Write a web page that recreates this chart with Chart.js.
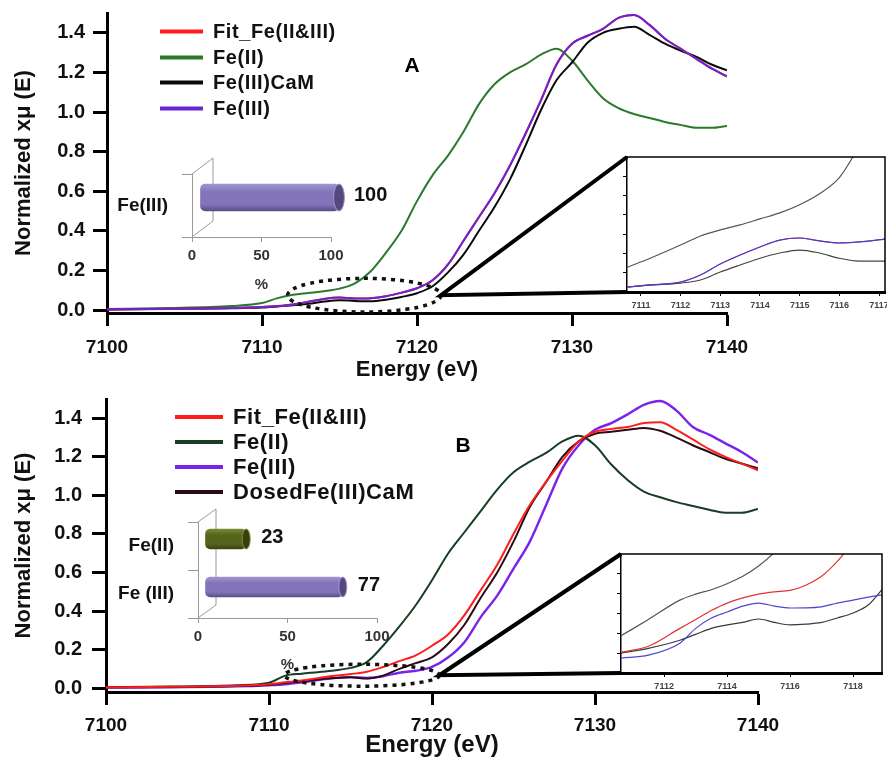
<!DOCTYPE html>
<html>
<head>
<meta charset="utf-8">
<script src="https://cdn.jsdelivr.net/npm/chart.js@4.4.0/dist/chart.umd.min.js"></script>
<style>
  body { margin: 0; background: #fff; }
  #wrap { position: relative; width: 887px; height: 757px; overflow: hidden; background: #fff;
          font-family: "Liberation Sans", Arial, sans-serif; }
  #wrap canvas { position: absolute; left: 0; top: 0; }
  .lg { position: absolute; display: flex; align-items: center; font-weight: bold; color: #111;
        white-space: nowrap; transform: translateY(-50%); }
  .lg i { display: inline-block; height: 4px; }
  .tag { position: absolute; font-weight: bold; font-size: 21px; transform: translate(-50%, -50%); }
</style>
</head>
<body>
<div id="wrap">
  <canvas id="mainA" width="887" height="757"></canvas>
  <canvas id="mainB" width="887" height="757"></canvas>
  <canvas id="zoomA" width="887" height="757"></canvas>
  <canvas id="zoomB" width="887" height="757"></canvas>
  <canvas id="barA" width="887" height="757"></canvas>
  <canvas id="barB" width="887" height="757"></canvas>
  <div class="tag" style="left:412px;top:65px">A</div>
  <div class="tag" style="left:463px;top:445px">B</div>
</div>
<script>
Chart.defaults.font.family = '"Liberation Sans", Arial, sans-serif';
Chart.defaults.color = '#111';

// energy grid (eV) shared by the main curves
const energy = [7100, 7104, 7108, 7110, 7111, 7112, 7113, 7114, 7115, 7116, 7117, 7118, 7119, 7120,
  7121, 7122, 7123, 7124, 7125, 7126, 7127, 7128, 7129, 7130, 7131, 7132, 7133, 7134, 7135, 7136,
  7137, 7138, 7139, 7140];
const energyTicks = [7100, 7110, 7120, 7130, 7140];
const muTicks = [0, 0.2, 0.4, 0.6, 0.8, 1.0, 1.2, 1.4];

// panel A
const feIIA = [0.005, 0.01, 0.02, 0.035, 0.06, 0.077, 0.086, 0.095, 0.108, 0.135, 0.195, 0.29, 0.40, 0.55,
  0.68, 0.78, 0.90, 1.04, 1.14, 1.20, 1.24, 1.29, 1.32, 1.26, 1.16, 1.07, 1.02, 0.99, 0.97, 0.95,
  0.935, 0.92, 0.92, 0.93];
const feIIIA = [0.003, 0.006, 0.01, 0.015, 0.02, 0.028, 0.042, 0.056, 0.063, 0.058, 0.06, 0.07, 0.088, 0.11,
  0.15, 0.23, 0.35, 0.47, 0.59, 0.73, 0.89, 1.06, 1.24, 1.345, 1.385, 1.42, 1.475, 1.49, 1.44, 1.37,
  1.32, 1.27, 1.22, 1.18];
const fitA = [0.003, 0.006, 0.01, 0.015, 0.02, 0.028, 0.042, 0.056, 0.063, 0.058, 0.06, 0.07, 0.088, 0.11,
  0.15, 0.23, 0.35, 0.47, 0.59, 0.73, 0.89, 1.06, 1.24, 1.345, 1.385, 1.42, 1.475, 1.49, 1.44, 1.37,
  1.32, 1.27, 1.22, 1.18];
const camA = [0.003, 0.005, 0.009, 0.013, 0.018, 0.024, 0.032, 0.043, 0.05, 0.046, 0.044, 0.052, 0.066, 0.085,
  0.12, 0.19, 0.28, 0.40, 0.52, 0.66, 0.83, 1.01, 1.16, 1.25, 1.35, 1.40, 1.42, 1.43, 1.39, 1.345,
  1.31, 1.28, 1.24, 1.21];

// panel B
const feIIB = [0.005, 0.008, 0.015, 0.028, 0.065, 0.075, 0.083, 0.092, 0.105, 0.135, 0.22, 0.32, 0.43, 0.56,
  0.70, 0.81, 0.92, 1.03, 1.12, 1.175, 1.22, 1.28, 1.31, 1.26, 1.16, 1.08, 1.02, 0.99, 0.965, 0.945,
  0.925, 0.91, 0.91, 0.93];
const fitB = [0.004, 0.007, 0.012, 0.02, 0.03, 0.04, 0.052, 0.064, 0.073, 0.085, 0.11, 0.14, 0.17, 0.22,
  0.28, 0.38, 0.51, 0.64, 0.80, 0.95, 1.07, 1.18, 1.28, 1.33, 1.345, 1.355, 1.375, 1.38, 1.34, 1.29,
  1.24, 1.20, 1.165, 1.13];
const dosedB = [0.004, 0.006, 0.011, 0.018, 0.027, 0.035, 0.045, 0.052, 0.056, 0.05, 0.065, 0.10, 0.13, 0.16,
  0.23, 0.33, 0.47, 0.60, 0.76, 0.94, 1.07, 1.20, 1.28, 1.32, 1.33, 1.34, 1.35, 1.335, 1.30, 1.26,
  1.225, 1.19, 1.165, 1.14];
const feIIIB = [0.003, 0.005, 0.009, 0.015, 0.02, 0.03, 0.042, 0.052, 0.057, 0.053, 0.062, 0.08, 0.09, 0.11,
  0.16, 0.24, 0.37, 0.48, 0.62, 0.76, 0.95, 1.14, 1.26, 1.34, 1.375, 1.42, 1.47, 1.49, 1.44, 1.355,
  1.315, 1.27, 1.225, 1.17];

// pre-edge zoom insets
const zoomEA = [7110.65, 7111.25, 7112, 7112.5, 7113, 7113.5, 7114, 7114.5, 7115, 7115.5, 7116, 7116.5, 7117.15];
const zoomTicksA = [7111, 7112, 7113, 7114, 7115, 7116, 7117];
const zFeIIA = [0.0398, 0.0462, 0.055, 0.0612, 0.0653, 0.0687, 0.0728, 0.0769, 0.0825, 0.09, 0.101, 0.122, null];
const zFeIIIA = [0.0264, 0.0278, 0.0298, 0.0346, 0.0421, 0.0482, 0.0537, 0.0584, 0.0598, 0.0578, 0.0564, 0.0571, 0.0591];
const zFitA = [0.0264, 0.0278, 0.0298, 0.0346, 0.0421, 0.0482, 0.0537, 0.0584, 0.0598, 0.0578, 0.0564, 0.0571, 0.0591];
const zCamA = [0.0264, 0.0278, 0.0291, 0.0312, 0.0366, 0.0414, 0.046, 0.0496, 0.0516, 0.0496, 0.046, 0.0441, 0.0441];

const zoomEB = [7110.63, 7111.5, 7112.5, 7113, 7113.5, 7114, 7114.5, 7115, 7115.5, 7116, 7116.5, 7117, 7117.5,
  7118, 7118.5, 7118.92];
const zoomTicksB = [7112, 7114, 7116, 7118];
const zFeIIB = [0.045, 0.056, 0.069, 0.073, 0.076, 0.080, 0.085, 0.092, 0.101, 0.113, null, null, null, null, null, null];
const zFitB = [0.034, 0.038, 0.05, 0.056, 0.062, 0.067, 0.0705, 0.073, 0.0745, 0.0755, 0.079, 0.085, 0.095, 0.108, null, null];
const zFeIIIB = [0.030, 0.032, 0.040, 0.050, 0.057, 0.061, 0.065, 0.067, 0.065, 0.0637, 0.0638, 0.0645, 0.067, 0.069, 0.071, 0.0725];
const zDosedB = [0.0334, 0.0366, 0.042, 0.046, 0.050, 0.0523, 0.054, 0.0563, 0.054, 0.0523, 0.0528, 0.054, 0.057, 0.0603, 0.066, 0.076];

// linear combination fit percentages
const barLabelsA = ['Fe(III)'];
const barValuesA = [100];
const barLabelsB = ['Fe(II)', 'Fe (III)'];
const barValuesB = [23, 77];
const pctTicks = [0, 50, 100];

const pts = (xs, ys) => xs.map((x, i) => ({ x: x, y: ys[i] }));
const fixTicks = vals => scale => { scale.ticks = vals.map(v => ({ value: v })); };

function lineSet(label, xs, ys, color, width) {
  return { label: label, data: pts(xs, ys), borderColor: color, borderWidth: width || 2,
    pointRadius: 0, cubicInterpolationMode: 'monotone', fill: false, spanGaps: false };
}

// dotted ellipse around the pre-edge region
function markPlugin(mark) {
  return {
    id: 'mark',
    afterDatasetsDraw(chart) {
      const { ctx, scales: { x, y } } = chart;
      const cx = x.getPixelForValue(mark.e), cy = y.getPixelForValue(mark.v);
      const rx = x.getPixelForValue(mark.e + mark.re) - cx;
      const ry = cy - y.getPixelForValue(mark.v + mark.rv);
      ctx.save();
      ctx.setLineDash([4, 5]);
      ctx.lineWidth = 3.5;
      ctx.strokeStyle = '#111';
      ctx.beginPath();
      ctx.ellipse(cx, cy, rx, ry, 0, 0, Math.PI * 2);
      ctx.stroke();
      ctx.restore();
    }
  };
}

function mainChart(id, p, sets) {
  return new Chart(document.getElementById(id), {
    type: 'line',
    data: { datasets: sets },
    options: {
      responsive: false, animation: false, events: [],
      layout: { padding: { left: 0, top: p.top, right: 887 - p.right, bottom: 757 - p.bottom - p.xh } },
      plugins: { legend: { display: false }, tooltip: { enabled: false } },
      scales: {
        x: {
          type: 'linear', min: 7100, max: 7140,
          afterBuildTicks: fixTicks(energyTicks),
          afterFit: s => { s.height = p.xh; s.paddingLeft = 0; s.paddingRight = 0; },
          grid: { drawOnChartArea: false, tickLength: 13, tickWidth: 3, color: '#000' },
          border: { width: 3, color: '#000' },
          ticks: { font: { size: 19, weight: 'bold' }, padding: p.xpad, maxRotation: 0, callback: v => String(v) },
          title: { display: true, text: 'Energy (eV)', font: { size: p.xtitle, weight: 'bold', lineHeight: 1 },
            padding: { top: 0, bottom: p.xtb } }
        },
        y: {
          min: p.ymin, max: 1.5,
          afterBuildTicks: fixTicks(muTicks),
          afterFit: s => { s.width = p.left; s.paddingTop = 0; s.paddingBottom = 0; },
          grid: { drawOnChartArea: false, tickLength: 14, tickWidth: 3, color: '#000' },
          border: { width: 3, color: '#000' },
          ticks: { font: { size: 20, weight: 'bold' }, padding: p.ypad, callback: v => v.toFixed(1) },
          title: { display: true, text: 'Normalized xμ (E)', font: { size: 22, weight: 'bold', lineHeight: 1 },
            padding: { top: 13, bottom: 0 } }
        }
      }
    },
    plugins: [markPlugin(p.mark)]
  });
}

const markA = { e: 7116.6, v: 0.075, re: 4.95, rv: 0.085 };
const markB = { e: 7115.7, v: 0.067, re: 4.75, rv: 0.057 };

const chartA = mainChart('mainA',
  { left: 107, top: 13, right: 727, bottom: 313, xh: 70, xpad: 10, xtitle: 22, xtb: 2, ymin: -0.015, ypad: 8, mark: markA },
  [
    lineSet('Fe(III)', energy, feIIIA, '#6a25d2'),
    lineSet('Fit_Fe(II&III)', energy, fitA, '#ff1c1c'),
    lineSet('Fe(III)CaM', energy, camA, '#0a0a0a'),
    lineSet('Fe(II)', energy, feIIA, '#2b7a2b')
  ]);

const chartB = mainChart('mainB',
  { left: 106, top: 399, right: 758, bottom: 692, xh: 65, xpad: 9, xtitle: 24, xtb: 0, ymin: -0.02, ypad: 10, mark: markB },
  [
    lineSet('Fit_Fe(II&III)', energy, fitB, '#ff1c1c'),
    lineSet('DosedFe(III)CaM', energy, dosedB, '#2a0c12'),
    lineSet('Fe(III)', energy, feIIIB, '#7a24ea', 2.4),
    lineSet('Fe(II)', energy, feIIB, '#173d24')
  ]);

// zoom inset: frame and the wedge that ties it to the dotted ellipse
function insetPlugin(main, mark) {
  return {
    id: 'inset',
    beforeDraw(chart) {
      const { ctx, chartArea: a } = chart;
      ctx.save();
      ctx.fillStyle = '#fff';
      ctx.fillRect(a.left, a.top, a.right - a.left, a.bottom - a.top);
      ctx.restore();
    },
    afterDraw(chart) {
      const { ctx, chartArea: a } = chart;
      const x = main.scales.x, y = main.scales.y;
      const ax = x.getPixelForValue(mark.e + mark.re), ay = y.getPixelForValue(mark.v);
      ctx.save();
      ctx.strokeStyle = '#000';
      ctx.lineWidth = 1.5;
      ctx.beginPath();
      ctx.moveTo(a.left, a.top);
      ctx.lineTo(a.right, a.top);
      ctx.lineTo(a.right, a.bottom);
      ctx.stroke();
      ctx.lineWidth = 4;
      ctx.beginPath();
      ctx.moveTo(a.left, a.top);
      ctx.lineTo(ax, ay);
      ctx.lineTo(a.left, a.bottom);
      ctx.stroke();
      ctx.restore();
    }
  };
}

function zoomChart(id, p, sets, main, mark) {
  return new Chart(document.getElementById(id), {
    type: 'line',
    data: { datasets: sets },
    options: {
      responsive: false, animation: false, events: [],
      layout: { padding: { left: p.left - 6, top: p.top, right: 887 - p.right, bottom: 757 - p.bottom - 22 } },
      plugins: { legend: { display: false }, tooltip: { enabled: false } },
      scales: {
        x: {
          type: 'linear', min: p.xmin, max: p.xmax,
          afterBuildTicks: fixTicks(p.ticks),
          afterFit: s => { s.height = 22; s.paddingLeft = 0; s.paddingRight = 0; },
          grid: { drawOnChartArea: false, tickLength: 4, color: '#000' },
          border: { width: 3, color: '#000' },
          ticks: { font: { size: 9, weight: 'bold' }, color: '#444', padding: 4, maxRotation: 0, callback: v => String(v) }
        },
        y: {
          min: p.ymin, max: p.ymax,
          afterFit: s => { s.width = 6; s.paddingTop = 0; s.paddingBottom = 0; },
          grid: { drawOnChartArea: false, tickLength: 4, color: '#000' },
          border: { width: 1.5, color: '#000' },
          ticks: { display: false, count: p.count }
        }
      }
    },
    plugins: [insetPlugin(main, mark)]
  });
}

zoomChart('zoomA',
  { left: 627, top: 157, right: 885, bottom: 292, xmin: 7110.65, xmax: 7117.15, ymin: 0.023, ymax: 0.115, count: 8, ticks: zoomTicksA },
  [
    lineSet('Fe(III)', zoomEA, zFeIIIA, '#4b3ccf', 1.2),
    lineSet('Fit_Fe(II&III)', zoomEA, zFitA, '#d02040', 1),
    lineSet('Fe(III)CaM', zoomEA, zCamA, '#444', 1.2),
    lineSet('Fe(II)', zoomEA, zFeIIA, '#555', 1.2)
  ], chartA, markA);

zoomChart('zoomB',
  { left: 621, top: 554, right: 882, bottom: 673, xmin: 7110.63, xmax: 7118.92, ymin: 0.02, ymax: 0.10, count: 7, ticks: zoomTicksB },
  [
    lineSet('Fit_Fe(II&III)', zoomEB, zFitB, '#e03535', 1.2),
    lineSet('Fe(III)', zoomEB, zFeIIIB, '#4a48d0', 1.2),
    lineSet('DosedFe(III)CaM', zoomEB, zDosedB, '#3a3a3a', 1.2),
    lineSet('Fe(II)', zoomEB, zFeIIB, '#555', 1.2)
  ], chartB, markB);

// 3D-ish cylinder bars with a back wall
function cylinderPlugin(depth, shift, shades) {
  return {
    id: 'cyl',
    beforeDraw(chart) {
      const { ctx, chartArea: a } = chart;
      ctx.save();
      ctx.strokeStyle = '#9a9a9a';
      ctx.lineWidth = 1;
      ctx.beginPath();
      ctx.moveTo(a.left, a.top);
      ctx.lineTo(a.left + depth.x, a.top + depth.y);
      ctx.lineTo(a.left + depth.x, a.bottom + depth.y);
      ctx.lineTo(a.left, a.bottom);
      ctx.stroke();
      ctx.restore();
    },
    beforeDatasetsDraw(chart) {
      const ctx = chart.ctx;
      chart.getDatasetMeta(0).data.forEach((el, i) => {
        const s = shades[i];
        const g = ctx.createLinearGradient(0, el.y - el.height / 2, 0, el.y + el.height / 2);
        g.addColorStop(0, s[0]);
        g.addColorStop(0.3, s[1]);
        g.addColorStop(0.75, s[1]);
        g.addColorStop(1, s[2]);
        el.options.backgroundColor = g;
      });
      ctx.save();
      ctx.translate(shift.x, shift.y);
    },
    afterDatasetsDraw(chart) {
      const ctx = chart.ctx;
      const ds = chart.data.datasets[0];
      chart.getDatasetMeta(0).data.forEach((el, i) => {
        ctx.beginPath();
        ctx.ellipse(el.x, el.y, el.height * 0.2, el.height / 2, 0, 0, Math.PI * 2);
        ctx.fillStyle = shades[i][3];
        ctx.fill();
        ctx.strokeStyle = shades[i][0];
        ctx.lineWidth = 1;
        ctx.stroke();
      });
      ctx.restore();
      ctx.save();
      ctx.font = 'bold 20px "Liberation Sans", Arial, sans-serif';
      ctx.fillStyle = '#111';
      ctx.textBaseline = 'middle';
      chart.getDatasetMeta(0).data.forEach((el, i) => {
        ctx.fillText(String(ds.data[i]), el.x + shift.x + 15, el.y + shift.y - 2);
      });
      ctx.restore();
    }
  };
}

const lavender = ['#a194d2', '#8374ba', '#5b4e86', '#54487c'];
const olive = ['#7a8a36', '#56651e', '#39420f', '#374010'];

function barChart(id, p, labels, values, shades) {
  return new Chart(document.getElementById(id), {
    type: 'bar',
    data: { labels: labels, datasets: [{ data: values, barThickness: p.thick, clip: false,
      borderRadius: 5, borderSkipped: false, backgroundColor: () => '#8374ba' }] },
    options: {
      indexAxis: 'y', responsive: false, animation: false, events: [],
      layout: { padding: { left: p.left - 132, top: p.top, right: 887 - p.right, bottom: 757 - p.bottom - 58 } },
      plugins: { legend: { display: false }, tooltip: { enabled: false } },
      scales: {
        x: {
          min: 0, max: 100,
          afterBuildTicks: fixTicks(pctTicks),
          afterFit: s => { s.height = 58; s.paddingLeft = 0; s.paddingRight = 0; },
          grid: { drawOnChartArea: false, tickLength: 5, color: '#999' },
          border: { color: '#999', width: 1 },
          ticks: { font: { size: 15, weight: 'bold' }, color: '#333', padding: 5 },
          title: { display: true, text: '%', font: { size: 15, weight: 'bold', lineHeight: 1 }, color: '#333',
            padding: { top: 0, bottom: p.ptb } }
        },
        y: {
          afterFit: s => { s.width = 132; s.paddingTop = 0; s.paddingBottom = 0; },
          grid: { offset: true, drawOnChartArea: false, tickLength: 10, color: '#999' },
          border: { color: '#999', width: 1 },
          ticks: { font: { size: 19, weight: 'bold' }, color: '#111', padding: 14 }
        }
      }
    },
    plugins: [cylinderPlugin(p.depth, p.shift, shades)]
  });
}

barChart('barA', { left: 192, top: 174, right: 331, bottom: 237, thick: 27, ptb: 3,
  depth: { x: 21, y: -16 }, shift: { x: 8, y: -8 } }, barLabelsA, barValuesA, [lavender]);
barChart('barB', { left: 198, top: 522, right: 377, bottom: 618, thick: 20, ptb: 4,
  depth: { x: 18, y: -13 }, shift: { x: 7, y: -7 } }, barLabelsB, barValuesB, [olive, lavender]);

// legends, built from the charts' own datasets
function legend(chart, order, x, rows, lineW, size) {
  const wrap = document.getElementById('wrap');
  order.forEach((name, i) => {
    const ds = chart.data.datasets.find(d => d.label === name);
    const row = document.createElement('div');
    row.className = 'lg';
    row.style.left = x + 'px';
    row.style.top = rows[i] + 'px';
    row.style.fontSize = size + 'px';
    row.style.letterSpacing = '0.6px';
    row.innerHTML = '<i style="width:' + lineW + 'px;background:' + ds.borderColor + ';margin-right:10px"></i>' + name;
    wrap.appendChild(row);
  });
}
legend(chartA, ['Fit_Fe(II&III)', 'Fe(II)', 'Fe(III)CaM', 'Fe(III)'], 160, [31, 57, 82, 108], 43, 20);
legend(chartB, ['Fit_Fe(II&III)', 'Fe(II)', 'Fe(III)', 'DosedFe(III)CaM'], 175, [417, 442, 467, 492], 48, 22);
</script>
</body>
</html>
